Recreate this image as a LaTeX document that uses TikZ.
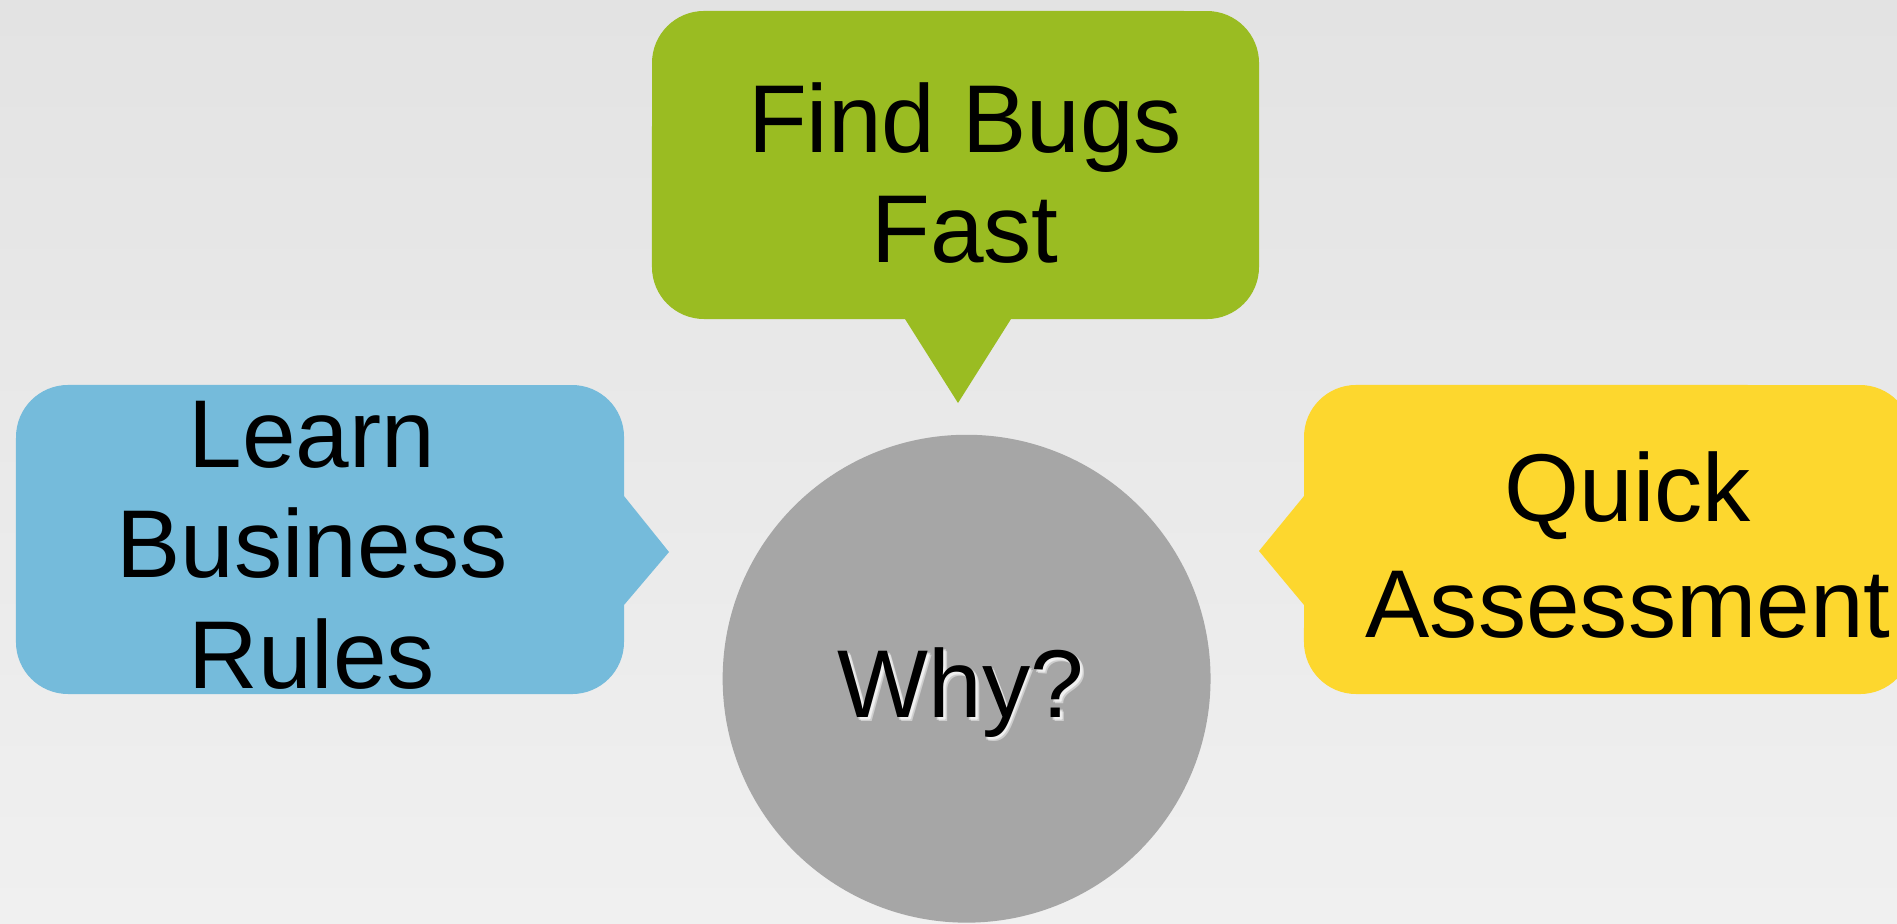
\documentclass[tikz,border=0pt]{standalone}
\usepackage{fontspec}
\setmainfont{Liberation Sans}
\definecolor{bgtop}{HTML}{E3E3E3}
\definecolor{bgbottom}{HTML}{F0F0F0}
\definecolor{bubblegreen}{HTML}{9ABC22}
\definecolor{bubbleblue}{HTML}{75BBDB}
\definecolor{bubbleyellow}{HTML}{FDD72E}
\definecolor{hubgray}{HTML}{A6A6A6}
\tikzset{
  label/.style={font=\fontsize{27.4}{31.3}\selectfont, align=center, inner sep=0pt, anchor=base, text=black},
  glow/.style={label, text=white, opacity=0.45},
}
\begin{document}
\begin{tikzpicture}[x=0.01cm, y=0.01cm]
  \useasboundingbox (0,0) rectangle (1897,923);
  \clip (0,0) rectangle (1897,923);
  \shade[top color=bgtop, bottom color=bgbottom] (0,0) rectangle (1897,923);

  % top callout, pointing down
  \fill[bubblegreen] (905,604) -- (704,604) arc[start angle=270, end angle=180, radius=0.52cm]
    -- (652,860) arc[start angle=180, end angle=90, radius=0.52cm]
    -- (1207,912) arc[start angle=90, end angle=0, radius=0.52cm]
    -- (1259,656) arc[start angle=0, end angle=-90, radius=0.52cm]
    -- (1011,604) -- (958,520) -- cycle;

  % left callout, pointing right
  \fill[bubbleblue] (624,318) -- (624,281) arc[start angle=0, end angle=-90, radius=0.52cm]
    -- (68,229) arc[start angle=-90, end angle=-180, radius=0.52cm]
    -- (16,486) arc[start angle=180, end angle=90, radius=0.52cm]
    -- (572,538) arc[start angle=90, end angle=0, radius=0.52cm]
    -- (624,427) -- (669,371) -- cycle;

  % right callout, pointing left
  \fill[bubbleyellow] (1304,427) -- (1304,486) arc[start angle=180, end angle=90, radius=0.52cm]
    -- (1860,538) arc[start angle=90, end angle=0, radius=0.52cm]
    -- (1912,281) arc[start angle=0, end angle=-90, radius=0.52cm]
    -- (1356,229) arc[start angle=-90, end angle=-180, radius=0.52cm]
    -- (1304,318) -- (1259,372) -- cycle;

  % central circle
  \fill[hubgray] (966.6,244.3) circle[radius=2.438cm];

  % multi-line labels are anchored at the baseline of their last line
  \node[label] (bugs) at (965,660.5) {Find Bugs\\Fast};
  \node[label] (rules) at (312,235) {Learn\\Business\\Rules};
  \node[label] (quick) at (1628,285.4) {Quick\\[1.7pt]Assessment};

  % soft light shadow behind the centre word
  \node[glow] (whyglowa) at (963.5,203.1) {Why?};
  \node[glow] (whyglowb) at (964.5,201.6) {Why?};
  \node[glow] (whyglowc) at (962.5,202.1) {Why?};
  \node[label] (why) at (961,205.6) {Why?};
\end{tikzpicture}
\end{document}
